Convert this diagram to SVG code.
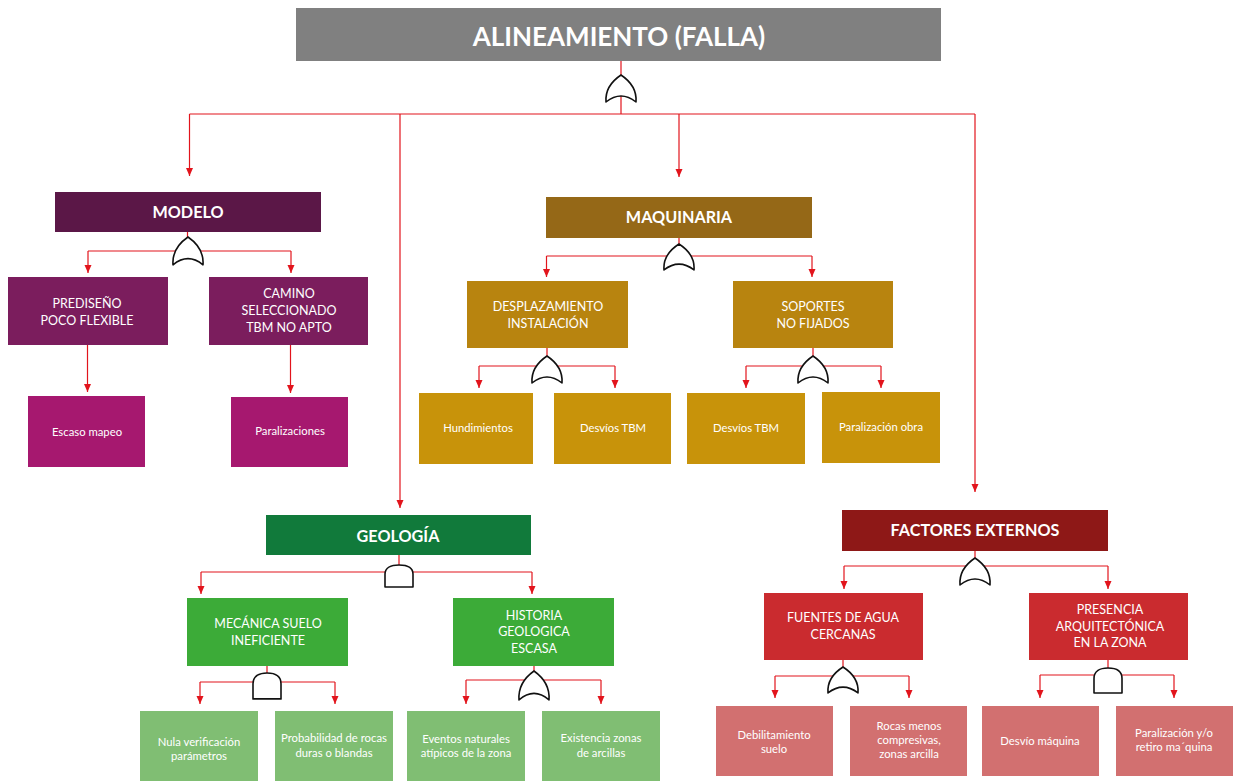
<svg xmlns="http://www.w3.org/2000/svg" xmlns:xlink="http://www.w3.org/1999/xlink" width="1234" height="781" viewBox="0 0 1234 781">
  <style>
    .lbl { font-family: Lato, "Liberation Sans", sans-serif; fill: #ffffff; text-anchor: middle; }
    .title { font-size: 26px; font-weight: bold; }
    .cat { font-size: 16.2px; font-weight: bold; }
    .mid { font-size: 12.5px; }
    .leaf { font-size: 11.3px; }
    .wire { fill: none; stroke: #e2141c; stroke-width: 1.2; }
    .arrow { marker-end: url(#head); }
    .gate { fill: #ffffff; stroke: #111111; stroke-width: 1.6; stroke-linejoin: round; }
  </style>
  <defs>
    <marker id="head" viewBox="0 0 8 8" refX="8" refY="4" markerWidth="8" markerHeight="8" markerUnits="userSpaceOnUse" orient="auto">
      <path d="M0,0.5 L8,4 L0,7.5 Z" fill="#e2141c"/>
    </marker>
    <!-- OR gate: pointed top, bulging sides, concave base (origin = apex) -->
    <path id="orGate" d="M-15,27 C-16,14 -9,6 0,0 C9,6 16,14 15,27 Q0,15 -15,27 Z"/>
    <!-- AND gate: rounded top, flat base (origin = top centre) -->
    <path id="andGate" d="M-14,24 V10 C-14,3 -8,0 0,0 C8,0 14,3 14,10 V24 Z"/>
  </defs>

  <rect width="1234" height="781" fill="#ffffff"/>

  <!-- wiring -->
  <g id="connectors">
    <!-- top level -->
    <path class="wire" d="M621,61 V114"/>
    <path class="wire" d="M189.5,114 H975"/>
    <path class="wire arrow" d="M189.5,114 V176"/>
    <path class="wire arrow" d="M400,114 V508"/>
    <path class="wire arrow" d="M679,114 V177"/>
    <path class="wire arrow" d="M975,114 V492"/>

    <!-- MODELO -->
    <path class="wire" d="M187.5,232 V251 M88,251 H291"/>
    <path class="wire arrow" d="M88,251 V273"/>
    <path class="wire arrow" d="M291,251 V273"/>
    <path class="wire arrow" d="M87.5,345 V392"/>
    <path class="wire arrow" d="M290.5,345 V393"/>

    <!-- MAQUINARIA -->
    <path class="wire" d="M679,238 V256 M546.5,256 H812"/>
    <path class="wire arrow" d="M546.5,256 V277"/>
    <path class="wire arrow" d="M812,256 V277"/>
    <path class="wire" d="M547,348 V366 M479,366 H615"/>
    <path class="wire arrow" d="M479,366 V388"/>
    <path class="wire arrow" d="M615,366 V388"/>
    <path class="wire" d="M813,348 V366 M746,366 H881"/>
    <path class="wire arrow" d="M746,366 V388"/>
    <path class="wire arrow" d="M881,366 V388"/>

    <!-- GEOLOGÍA -->
    <path class="wire" d="M399,555 V572 M201,572 H532"/>
    <path class="wire arrow" d="M201,572 V594"/>
    <path class="wire arrow" d="M532,572 V594"/>
    <path class="wire" d="M267,666 V682 M200,682 H335"/>
    <path class="wire arrow" d="M200,682 V704"/>
    <path class="wire arrow" d="M335,682 V704"/>
    <path class="wire" d="M534,666 V680 M466,680 H601"/>
    <path class="wire arrow" d="M466,680 V704"/>
    <path class="wire arrow" d="M601,680 V704"/>

    <!-- FACTORES EXTERNOS -->
    <path class="wire" d="M975,551 V566 M844,566 H1108"/>
    <path class="wire arrow" d="M844,566 V589"/>
    <path class="wire arrow" d="M1108,566 V589"/>
    <path class="wire" d="M843,660 V676 M775,676 H909"/>
    <path class="wire arrow" d="M775,676 V698"/>
    <path class="wire arrow" d="M909,676 V698"/>
    <path class="wire" d="M1108,660 V675 M1040,675 H1174"/>
    <path class="wire arrow" d="M1040,675 V698"/>
    <path class="wire arrow" d="M1174,675 V698"/>
  </g>

  <!-- logic gates -->
  <g id="gates">
    <use xlink:href="#orGate" class="gate" transform="translate(621,75)"/>
    <use xlink:href="#orGate" class="gate" transform="translate(188,237) scale(1,1.03)"/>
    <use xlink:href="#orGate" class="gate" transform="translate(679,244) scale(1,0.96)"/>
    <use xlink:href="#orGate" class="gate" transform="translate(547,356)"/>
    <use xlink:href="#orGate" class="gate" transform="translate(813,356)"/>
    <use xlink:href="#andGate" class="gate" transform="translate(399,565) scale(1,0.92)"/>
    <use xlink:href="#andGate" class="gate" transform="translate(267,673) scale(1,1.08)"/>
    <use xlink:href="#orGate" class="gate" transform="translate(534,671) scale(1,1.07)"/>
    <use xlink:href="#orGate" class="gate" transform="translate(975,558)"/>
    <use xlink:href="#orGate" class="gate" transform="translate(843,667) scale(1,0.96)"/>
    <use xlink:href="#andGate" class="gate" transform="translate(1108,668) scale(1,1.04)"/>
  </g>

  <!-- top event -->
  <g id="top-event">
    <rect x="296" y="8" width="645" height="53" fill="#808080"/>
    <text class="lbl title" x="619" y="45.5">ALINEAMIENTO (FALLA)</text>
  </g>

  <!-- MODELO branch -->
  <g id="modelo">
    <rect x="55" y="192" width="266" height="40" fill="#5b1747"/>
    <text class="lbl cat" x="188" y="218">MODELO</text>
  </g>
  <g id="prediseno">
    <rect x="8" y="277" width="160" height="68" fill="#7b1d5d"/>
    <text class="lbl mid" x="87" y="308">PREDISEÑO</text>
    <text class="lbl mid" x="87" y="325">POCO FLEXIBLE</text>
  </g>
  <g id="camino">
    <rect x="209" y="277" width="159" height="68" fill="#7b1d5d"/>
    <text class="lbl mid" x="289" y="298">CAMINO</text>
    <text class="lbl mid" x="289" y="315">SELECCIONADO</text>
    <text class="lbl mid" x="289" y="332">TBM NO APTO</text>
  </g>
  <g id="escaso-mapeo">
    <rect x="28" y="396" width="117" height="71" fill="#a6186f"/>
    <text class="lbl leaf" x="87" y="436">Escaso mapeo</text>
  </g>
  <g id="paralizaciones">
    <rect x="231" y="397" width="117" height="70" fill="#a6186f"/>
    <text class="lbl leaf" x="290" y="435">Paralizaciones</text>
  </g>

  <!-- MAQUINARIA branch -->
  <g id="maquinaria">
    <rect x="546" y="197" width="266" height="41" fill="#956817"/>
    <text class="lbl cat" x="679" y="223">MAQUINARIA</text>
  </g>
  <g id="desplazamiento">
    <rect x="467" y="281" width="161" height="67" fill="#b8840f"/>
    <text class="lbl mid" x="548" y="311">DESPLAZAMIENTO</text>
    <text class="lbl mid" x="548" y="328">INSTALACIÓN</text>
  </g>
  <g id="soportes">
    <rect x="733" y="281" width="160" height="67" fill="#b8840f"/>
    <text class="lbl mid" x="813" y="311">SOPORTES</text>
    <text class="lbl mid" x="813" y="328">NO FIJADOS</text>
  </g>
  <g id="hundimientos">
    <rect x="419" y="393" width="114" height="71" fill="#c8930a"/>
    <text class="lbl leaf" x="478" y="432">Hundimientos</text>
  </g>
  <g id="desvios-tbm-1">
    <rect x="554" y="393" width="117" height="71" fill="#c8930a"/>
    <text class="lbl leaf" x="613" y="432">Desvíos TBM</text>
  </g>
  <g id="desvios-tbm-2">
    <rect x="687" y="393" width="118" height="71" fill="#c8930a"/>
    <text class="lbl leaf" x="746" y="432">Desvíos TBM</text>
  </g>
  <g id="paralizacion-obra">
    <rect x="822" y="392" width="118" height="71" fill="#c8930a"/>
    <text class="lbl leaf" x="881" y="431">Paralización obra</text>
  </g>

  <!-- GEOLOGÍA branch -->
  <g id="geologia">
    <rect x="266" y="515" width="265" height="40" fill="#117a3b"/>
    <text class="lbl cat" x="398" y="542">GEOLOGÍA</text>
  </g>
  <g id="mecanica-suelo">
    <rect x="187" y="598" width="161" height="68" fill="#3cab38"/>
    <text class="lbl mid" x="268" y="628">MECÁNICA SUELO</text>
    <text class="lbl mid" x="268" y="645">INEFICIENTE</text>
  </g>
  <g id="historia-geologica">
    <rect x="453" y="598" width="161" height="68" fill="#3cab38"/>
    <text class="lbl mid" x="534" y="620">HISTORIA</text>
    <text class="lbl mid" x="534" y="636">GEOLOGICA</text>
    <text class="lbl mid" x="534" y="653">ESCASA</text>
  </g>
  <g id="nula-verificacion">
    <rect x="140" y="711" width="118" height="70" fill="#80be73"/>
    <text class="lbl leaf" x="199" y="746">Nula verificación</text>
    <text class="lbl leaf" x="199" y="760">parámetros</text>
  </g>
  <g id="probabilidad-rocas">
    <rect x="275" y="711" width="118" height="70" fill="#80be73"/>
    <text class="lbl leaf" x="334" y="742">Probabilidad de rocas</text>
    <text class="lbl leaf" x="334" y="757">duras o blandas</text>
  </g>
  <g id="eventos-naturales">
    <rect x="407" y="711" width="118" height="70" fill="#80be73"/>
    <text class="lbl leaf" x="466" y="743">Eventos naturales</text>
    <text class="lbl leaf" x="466" y="757">atípicos de la zona</text>
  </g>
  <g id="zonas-arcillas">
    <rect x="542" y="711" width="118" height="70" fill="#80be73"/>
    <text class="lbl leaf" x="601" y="742">Existencia zonas</text>
    <text class="lbl leaf" x="601" y="757">de arcillas</text>
  </g>

  <!-- FACTORES EXTERNOS branch -->
  <g id="factores-externos">
    <rect x="842" y="510" width="266" height="41" fill="#8e1817"/>
    <text class="lbl cat" x="975" y="536">FACTORES EXTERNOS</text>
  </g>
  <g id="fuentes-agua">
    <rect x="764" y="593" width="159" height="67" fill="#ca2b2f"/>
    <text class="lbl mid" x="843" y="622">FUENTES DE AGUA</text>
    <text class="lbl mid" x="843" y="639">CERCANAS</text>
  </g>
  <g id="presencia-arquitectonica">
    <rect x="1029" y="593" width="159" height="67" fill="#ca2b2f"/>
    <text class="lbl mid" x="1110" y="614">PRESENCIA</text>
    <text class="lbl mid" x="1110" y="631">ARQUITECTÓNICA</text>
    <text class="lbl mid" x="1110" y="647">EN LA ZONA</text>
  </g>
  <g id="debilitamiento-suelo">
    <rect x="716" y="706" width="117" height="70" fill="#d27070"/>
    <text class="lbl leaf" x="774" y="739">Debilitamiento</text>
    <text class="lbl leaf" x="774" y="753">suelo</text>
  </g>
  <g id="rocas-menos">
    <rect x="850" y="706" width="117" height="70" fill="#d27070"/>
    <text class="lbl leaf" x="909" y="730">Rocas menos</text>
    <text class="lbl leaf" x="909" y="744">compresivas,</text>
    <text class="lbl leaf" x="909" y="758">zonas arcilla</text>
  </g>
  <g id="desvio-maquina">
    <rect x="982" y="706" width="117" height="70" fill="#d27070"/>
    <text class="lbl leaf" x="1040" y="745">Desvío máquina</text>
  </g>
  <g id="paralizacion-retiro">
    <rect x="1116" y="706" width="117" height="70" fill="#d27070"/>
    <text class="lbl leaf" x="1174" y="737">Paralización y/o</text>
    <text class="lbl leaf" x="1174" y="751">retiro ma´quina</text>
  </g>
</svg>
